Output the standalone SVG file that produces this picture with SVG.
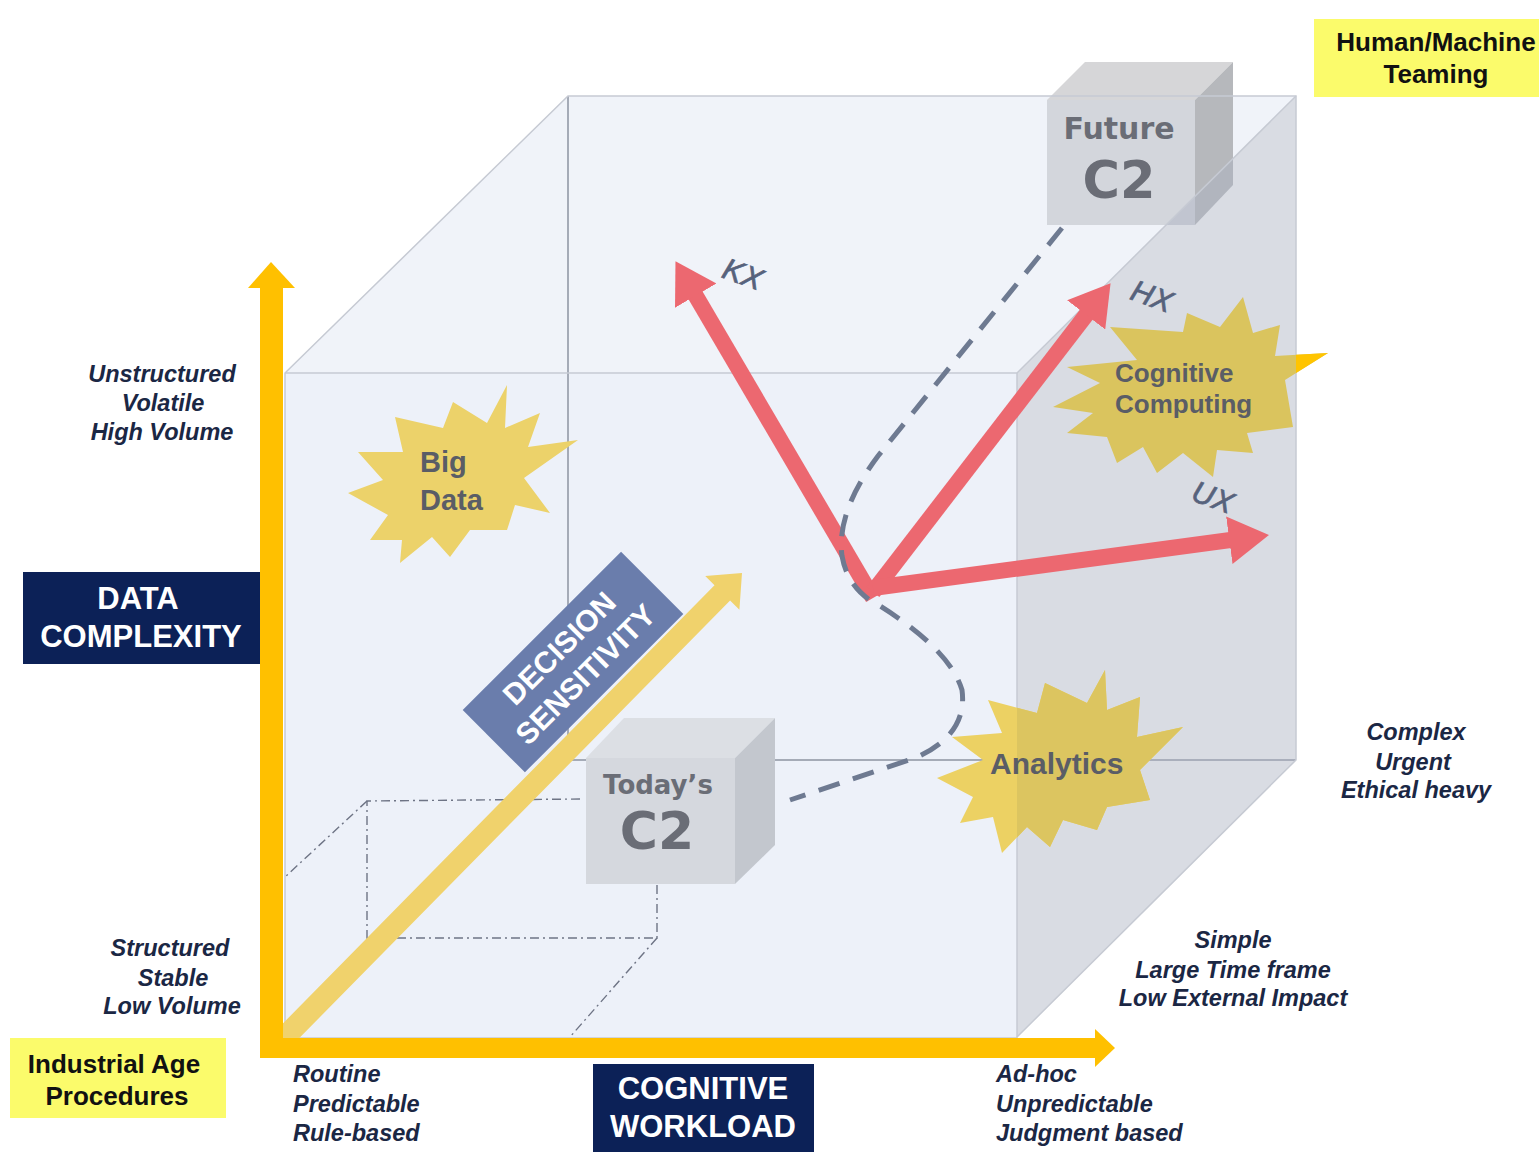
<svg xmlns="http://www.w3.org/2000/svg" width="1539" height="1152" viewBox="0 0 1539 1152">
<defs>
<style>
.lab{font-family:"Liberation Sans",Arial,sans-serif;font-weight:bold;font-style:italic;font-size:23.5px;fill:#1b2744}
.nav{font-family:"Liberation Sans",Arial,sans-serif;font-weight:bold;font-size:31px;fill:#ffffff;text-anchor:middle}
.yel{font-family:"Liberation Sans",Arial,sans-serif;font-weight:bold;font-size:26px;fill:#111111;text-anchor:middle}
.box{font-family:"DejaVu Sans",Verdana,sans-serif;font-weight:bold;fill:#6a6d76;text-anchor:middle}
.star{font-family:"Liberation Sans",Arial,sans-serif;font-weight:bold;fill:#5a5d66}
.xl{font-family:"Liberation Sans",Arial,sans-serif;font-style:italic;font-size:30px;fill:#56627c;stroke:#56627c;stroke-width:0.7;text-anchor:middle;dominant-baseline:central}
.edge{stroke:#c6cad3;stroke-width:1.5;fill:none}
.back{stroke:#8d93a0;stroke-width:1.5;fill:none}
.dd{stroke:#6e7485;stroke-width:1.4;fill:none;stroke-dasharray:9 4 2 4}
.red{stroke:#ec6870;stroke-width:16;fill:none;marker-end:url(#rh)}
</style>
<marker id="rh" markerUnits="userSpaceOnUse" markerWidth="44" markerHeight="48" refX="3" refY="24" orient="auto">
<path d="M0,0 L40,24 L0,48 z" fill="#ec6870"/>
</marker>
<clipPath id="outR"><rect x="1296" y="0" width="243" height="1152"/></clipPath>
<clipPath id="sideC"><polygon points="1017,373 1296,96 1296,760 1017,1037"/></clipPath>
</defs>
<rect width="1539" height="1152" fill="#ffffff"/>

<g id="cube">
<polygon points="285,373 568,96 1296,96 1017,373" fill="#f0f3f9"/>
<rect x="285" y="373" width="732" height="665" fill="#edf1f9"/>
<line class="back" x1="568" y1="96" x2="568" y2="760"/>
<line class="back" x1="568" y1="760" x2="1296" y2="760"/>
</g>

<g id="future-c2">
<polygon points="1047,100 1085,62 1233,62 1195,100" fill="#d6d6d8"/>
<polygon points="1195,100 1233,62 1233,185 1195,225" fill="#b6b8bc"/>
<rect x="1047" y="100" width="148" height="125" fill="#d3d6dc"/>
<text class="box" x="1119" y="139" font-size="30">Future</text>
<text class="box" x="1119" y="198" font-size="51">C2</text>
</g>

<g id="cube-side">
<polygon points="1017,373 1296,96 1296,760 1017,1037" fill="#aab2c2" fill-opacity="0.45"/>
<polyline class="edge" points="285,1038 285,373 568,96 1296,96 1296,760 1017,1037"/>
<line class="edge" x1="285" y1="373" x2="1017" y2="373"/>
<line class="edge" x1="1017" y1="373" x2="1296" y2="96"/>
<line class="edge" x1="1017" y1="373" x2="1017" y2="1038"/>
<line class="edge" x1="285" y1="1038" x2="1017" y2="1038"/>
</g>

<g id="projection">
<polyline class="dd" points="580,799 367,801 367,938 657,938 657,884"/>
<line class="dd" x1="367" y1="801" x2="285" y2="877"/>
<line class="dd" x1="657" y1="938" x2="570" y2="1037"/>
</g>

<g id="big-data">
<polygon fill="#ecd26a" points="507,385 505,428 540,413 528,447 578,440 524,478 550,513 515,505 507,530 470,530 450,557 432,537 400,563 402,540 370,540 388,515 348,493 383,480 358,452 403,452 395,417 443,428 453,402 487,423"/>
<text class="star" x="420" y="472" font-size="29">Big</text>
<text class="star" x="420" y="510" font-size="29">Data</text>
</g>

<g id="analytics">
<polygon fill="#ecd163" points="1105,670 1107,710 1140,697 1137,737 1183,727 1140,770 1150,800 1107,807 1097,830 1063,820 1050,847 1027,827 1002,853 993,817 960,823 973,797 937,778 983,760 952,737 1002,733 988,700 1037,713 1045,683 1087,703"/>
<polygon fill="#dcc560" clip-path="url(#sideC)" points="1105,670 1107,710 1140,697 1137,737 1183,727 1140,770 1150,800 1107,807 1097,830 1063,820 1050,847 1027,827 1002,853 993,817 960,823 973,797 937,778 983,760 952,737 1002,733 988,700 1037,713 1045,683 1087,703"/>
<text class="star" x="990" y="774" font-size="30">Analytics</text>
</g>

<g id="cognitive-computing">
<polygon fill="#dac45e" points="1243,297 1253,333 1280,325 1275,356 1328,353 1285,380 1293,427 1247,433 1253,453 1217,450 1213,477 1183,453 1157,473 1143,447 1117,463 1107,437 1067,433 1093,413 1053,407 1100,383 1067,367 1137,360 1110,327 1183,332 1187,313 1220,327"/>
<polygon fill="#ffc400" clip-path="url(#outR)" points="1243,297 1253,333 1280,325 1275,356 1328,353 1285,380 1293,427 1247,433"/>
<text class="star" x="1115" y="382" font-size="26">Cognitive</text>
<text class="star" x="1115" y="413" font-size="26">Computing</text>
</g>

<g id="decision-sensitivity">
<polygon fill="#f0d26c" points="272.2,1034.3 714.5,585.2 705.2,576.1 742,573 739.4,609.7 730.1,600.6 287.8,1049.7"/>
<g transform="translate(573,662) rotate(-45)">
<rect x="-112" y="-44" width="224" height="88" fill="#6a7dac"/>
<text x="0" y="-9" font-family="Liberation Sans, Arial, sans-serif" font-weight="bold" font-size="30" fill="#ffffff" text-anchor="middle">DECISION</text>
<text x="0" y="28" font-family="Liberation Sans, Arial, sans-serif" font-weight="bold" font-size="30" fill="#ffffff" text-anchor="middle">SENSITIVITY</text>
</g>
</g>

<g id="todays-c2">
<polygon points="586,758 624,718 775,718 735,758" fill="#dcdfe4"/>
<polygon points="735,758 775,718 775,845 735,884" fill="#c3c7ce"/>
<rect x="586" y="758" width="149" height="126" fill="#d5d8de"/>
<text class="box" x="658" y="794" font-size="26">Today’s</text>
<text class="box" x="657" y="849" font-size="52">C2</text>
</g>

<g id="connectors">
<line class="red" x1="873" y1="598" x2="694.2" y2="293.1"/>
<line class="red" x1="873" y1="592" x2="1088" y2="312.5"/>
<line class="red" x1="873" y1="588" x2="1232.3" y2="539.8"/>
<path d="M1062,228 L878,456 Q836,512 842,556 Q848,590 880,606 Q950,650 962,690 Q968,735 915,758 L790,800" fill="none" stroke="#6e7a91" stroke-width="5" stroke-dasharray="22 14"/>
</g>

<g id="arrow-labels">
<text class="xl" transform="translate(743,274) rotate(20)">KX</text>
<text class="xl" transform="translate(1152,296) rotate(20)">HX</text>
<text class="xl" transform="translate(1213,497) rotate(20)">UX</text>
</g>

<g id="axes" fill="#ffc000">
<rect x="260" y="283" width="23" height="775"/>
<polygon points="248,288 271,262 295,288"/>
<rect x="260" y="1038" width="837" height="20"/>
<polygon points="1095,1029 1115,1048 1095,1067"/>
</g>

<g id="data-complexity">
<rect x="23" y="572" width="237" height="92" fill="#0c2157"/>
<text class="nav" x="138" y="609">DATA</text>
<text class="nav" x="141" y="647">COMPLEXITY</text>
</g>
<g id="cognitive-workload">
<rect x="593" y="1064" width="221" height="88" fill="#0c2157"/>
<text class="nav" x="703" y="1099">COGNITIVE</text>
<text class="nav" x="703" y="1137">WORKLOAD</text>
</g>
<g id="industrial-age">
<rect x="10" y="1038" width="216" height="80" fill="#fbfb6b"/>
<text class="yel" x="114" y="1073">Industrial Age</text>
<text class="yel" x="117" y="1105">Procedures</text>
</g>
<g id="human-machine">
<rect x="1314" y="19" width="225" height="78" fill="#fbfb6b"/>
<text class="yel" x="1436" y="51">Human/Machine</text>
<text class="yel" x="1436" y="83">Teaming</text>
</g>

<g id="axis-labels">
<text class="lab" text-anchor="middle" x="162" y="382">Unstructured</text>
<text class="lab" text-anchor="middle" x="163" y="411">Volatile</text>
<text class="lab" text-anchor="middle" x="162" y="440">High Volume</text>
<text class="lab" text-anchor="middle" x="170" y="956">Structured</text>
<text class="lab" text-anchor="middle" x="173" y="986">Stable</text>
<text class="lab" text-anchor="middle" x="172" y="1014">Low Volume</text>
<text class="lab" x="293" y="1082">Routine</text>
<text class="lab" x="293" y="1112">Predictable</text>
<text class="lab" x="293" y="1141">Rule-based</text>
<text class="lab" x="996" y="1082">Ad-hoc</text>
<text class="lab" x="996" y="1112">Unpredictable</text>
<text class="lab" x="996" y="1141">Judgment based</text>
<text class="lab" text-anchor="middle" x="1233" y="948">Simple</text>
<text class="lab" text-anchor="middle" x="1233" y="978">Large Time frame</text>
<text class="lab" text-anchor="middle" x="1233" y="1006">Low External Impact</text>
<text class="lab" text-anchor="middle" x="1416" y="740">Complex</text>
<text class="lab" text-anchor="middle" x="1413" y="770">Urgent</text>
<text class="lab" text-anchor="middle" x="1416" y="798">Ethical heavy</text>
</g>
</svg>
